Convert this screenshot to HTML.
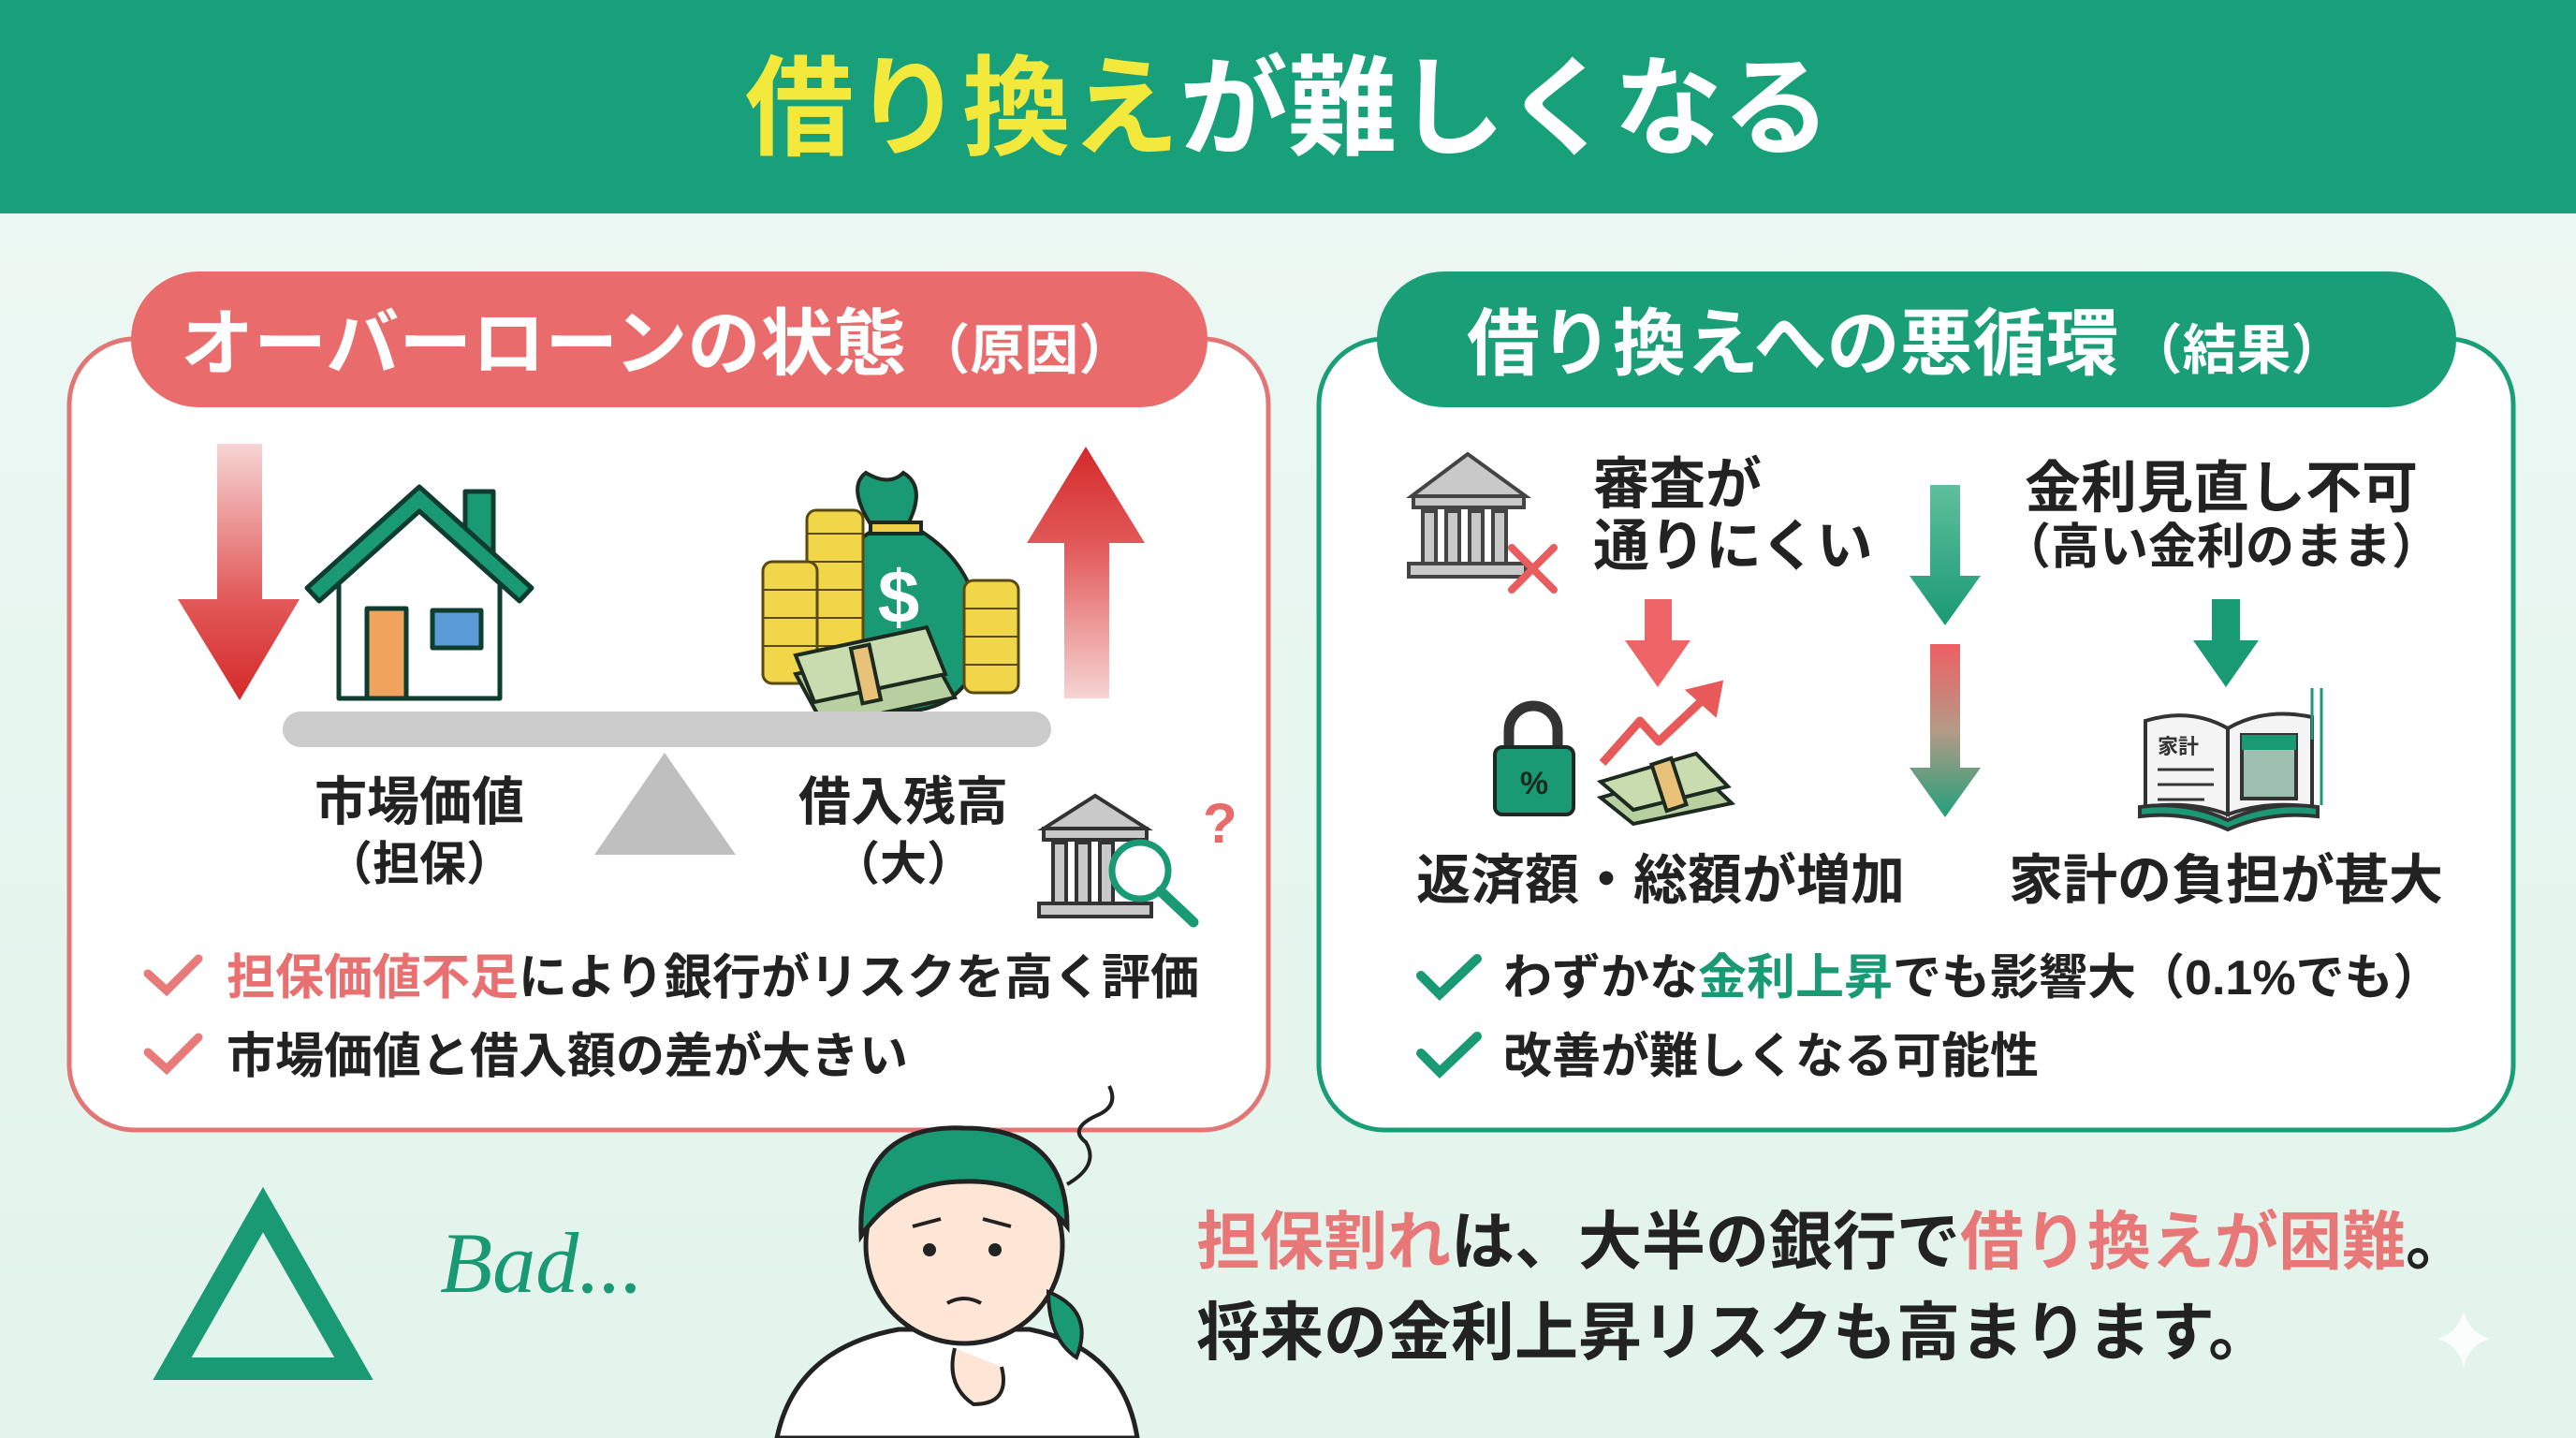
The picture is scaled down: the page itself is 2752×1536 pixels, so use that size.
<!DOCTYPE html>
<html><head><meta charset="utf-8">
<style>
html,body{margin:0;padding:0;background:#e8f6f0;}
svg{display:block;}
.t{font-family:"Liberation Sans","Noto Sans CJK JP",sans-serif;font-weight:700;}
</style></head>
<body>
<svg width="2752" height="1536" viewBox="0 0 2752 1536" xmlns="http://www.w3.org/2000/svg">
<defs>
<linearGradient id="bg" x1="0" y1="0" x2="0" y2="1"><stop offset="0" stop-color="#eef8f4"/><stop offset="1" stop-color="#e2f4ec"/></linearGradient>
<linearGradient id="rdown" x1="0" y1="0" x2="0" y2="1"><stop offset="0" stop-color="#f6d4d4"/><stop offset="0.6" stop-color="#e25a5a"/><stop offset="1" stop-color="#d42a2a"/></linearGradient>
<linearGradient id="rup" x1="0" y1="1" x2="0" y2="0"><stop offset="0" stop-color="#f6d4d4"/><stop offset="0.6" stop-color="#e25a5a"/><stop offset="1" stop-color="#d42a2a"/></linearGradient>
<linearGradient id="rg" x1="0" y1="0" x2="0" y2="1"><stop offset="0" stop-color="#ef5f62"/><stop offset="0.5" stop-color="#b49a86"/><stop offset="1" stop-color="#22a07a"/></linearGradient>
<linearGradient id="gdown" x1="0" y1="0" x2="0" y2="1"><stop offset="0" stop-color="#5fbf9c"/><stop offset="1" stop-color="#1a9a74"/></linearGradient>
</defs>
<rect width="2752" height="1536" fill="url(#bg)"/>
<rect x="0" y="0" width="2752" height="228" fill="#17a07a"/>
<text class="t" x="1376" y="156" text-anchor="middle" font-size="116" fill="#ffffff"><tspan fill="#f3e83c">借り換え</tspan>が難しくなる</text>

<!-- left panel -->
<rect x="74" y="362" width="1281" height="845" rx="70" fill="#ffffff" stroke="#e27575" stroke-width="5"/>
<rect x="140" y="290" width="1150" height="145" rx="72" fill="#e96b6b"/>
<text class="t" x="193" y="394" font-size="78" fill="#fff">オーバーローンの状態<tspan font-size="58" dx="10">（原因）</tspan></text>

<path d="M232 474 H280 V640 H320 L256 748 L190 640 H232 Z" fill="url(#rdown)"/>
<g stroke="#0e3d30" stroke-width="5" stroke-linejoin="round">
<rect x="497" y="525" width="30" height="70" fill="#1a9a74"/>
<path d="M362 600 L448 530 L534 600 V746 H362 Z" fill="#fff"/>
<path d="M328 628 L448 520 L568 628 L555 642 L448 546 L341 642 Z" fill="#1a9a74"/>
<rect x="392" y="650" width="42" height="96" fill="#efa35c"/>
<rect x="462" y="652" width="52" height="40" fill="#5b9bd8"/>
</g>
<g stroke="#1d2a20" stroke-width="4">
<path d="M930 560 Q905 520 925 505 Q950 520 965 505 Q990 520 970 560 Z" fill="#1a9a74"/>
<path d="M935 565 Q860 610 880 710 Q900 760 960 760 Q1030 760 1045 700 Q1055 610 980 565 Z" fill="#1a9a74"/>
<rect x="930" y="558" width="54" height="12" fill="#f0d048"/>
</g>
<text class="t" x="960" y="665" text-anchor="middle" font-size="80" fill="#fff">$</text>
<g stroke="#5a4a10" stroke-width="3" fill="#f2d64a">
<rect x="862" y="545" width="60" height="170" rx="10"/>
<rect x="815" y="600" width="58" height="130" rx="10"/>
<rect x="1030" y="620" width="58" height="120" rx="10"/>
</g>
<g stroke="#5a4a10" stroke-width="2">
<line x1="862" y1="570" x2="922" y2="570"/><line x1="862" y1="600" x2="922" y2="600"/><line x1="862" y1="630" x2="922" y2="630"/><line x1="862" y1="660" x2="922" y2="660"/><line x1="862" y1="690" x2="922" y2="690"/>
<line x1="815" y1="630" x2="873" y2="630"/><line x1="815" y1="660" x2="873" y2="660"/><line x1="815" y1="690" x2="873" y2="690"/>
<line x1="1030" y1="650" x2="1088" y2="650"/><line x1="1030" y1="680" x2="1088" y2="680"/><line x1="1030" y1="710" x2="1088" y2="710"/>
</g>
<g stroke="#1d2a20" stroke-width="4">
<path d="M850 720 L990 690 L1020 745 L880 775 Z" fill="#b8cfa0"/>
<path d="M850 700 L990 670 L1010 720 L870 750 Z" fill="#c8dcb0"/>
<rect x="915" y="690" width="20" height="60" fill="#e9c27a" transform="rotate(-12 925 720)"/>
</g>
<path d="M1137 746 H1185 V580 H1223 L1160 477 L1097 580 H1137 Z" fill="url(#rup)"/>
<rect x="302" y="760" width="821" height="38" rx="19" fill="#cbcbcb"/>
<path d="M710 804 L786 913 L635 913 Z" fill="#bfbfbf"/>
<text class="t" x="448" y="876" text-anchor="middle" font-size="56" fill="#222">市場価値</text>
<text class="t" x="448" y="940" text-anchor="middle" font-size="50" fill="#222">（担保）</text>
<text class="t" x="965" y="876" text-anchor="middle" font-size="56" fill="#222">借入残高</text>
<text class="t" x="965" y="940" text-anchor="middle" font-size="50" fill="#222">（大）</text>
<g stroke="#333" stroke-width="4" fill="#c9c9c9">
<path d="M1115 885 L1170 850 L1225 885 Z"/>
<rect x="1115" y="885" width="110" height="12"/>
<rect x="1125" y="900" width="14" height="65"/><rect x="1150" y="900" width="14" height="65"/><rect x="1175" y="900" width="14" height="65"/>
<rect x="1110" y="965" width="120" height="14"/>
</g>
<circle cx="1218" cy="930" r="30" fill="#fff" stroke="#1a9a74" stroke-width="7"/>
<line x1="1240" y1="952" x2="1275" y2="985" stroke="#1a9a74" stroke-width="11" stroke-linecap="round"/>
<text class="t" x="1285" y="900" font-size="60" fill="#e86a6a">?</text>
<path d="M158 1040 L178 1058 L212 1024" fill="none" stroke="#e87a7a" stroke-width="9" stroke-linecap="round"/>
<text class="t" x="242" y="1062" font-size="52" fill="#222"><tspan fill="#e87070">担保価値不足</tspan>により銀行がリスクを高く評価</text>
<path d="M158 1124 L178 1142 L212 1108" fill="none" stroke="#e87a7a" stroke-width="9" stroke-linecap="round"/>
<text class="t" x="242" y="1146" font-size="52" fill="#222">市場価値と借入額の差が大きい</text>

<!-- right panel -->
<rect x="1409" y="362" width="1276" height="845" rx="70" fill="#ffffff" stroke="#1a9e78" stroke-width="5"/>
<rect x="1471" y="290" width="1153" height="145" rx="72" fill="#1a9e78"/>
<text class="t" x="1567" y="394" font-size="78" fill="#fff">借り換えへの悪循環<tspan font-size="58" dx="10">（結果）</tspan></text>

<!-- bank x -->
<g stroke="#444" stroke-width="4" fill="#c9c9c9">
<path d="M1508 530 L1568 485 L1630 530 Z"/>
<rect x="1510" y="530" width="118" height="12"/>
<rect x="1520" y="546" width="14" height="56"/><rect x="1545" y="546" width="14" height="56"/><rect x="1570" y="546" width="14" height="56"/><rect x="1595" y="546" width="14" height="56"/>
<rect x="1505" y="602" width="125" height="14"/>
</g>
<path d="M1615 585 L1660 630 M1660 585 L1615 630" stroke="#e85e5e" stroke-width="8" stroke-linecap="round"/>
<text class="t" x="1702" y="538" font-size="60" fill="#222">審査が</text>
<text class="t" x="1702" y="604" font-size="60" fill="#222">通りにくい</text>
<path d="M1757 640 H1786 V684 H1806 L1771 734 L1736 684 H1757 Z" fill="#ef6466"/>
<!-- lock -->
<path d="M1612 800 V780 A26 26 0 0 1 1664 780 V800" fill="none" stroke="#333" stroke-width="11"/>
<rect x="1597" y="798" width="84" height="72" rx="8" fill="#1a9a74" stroke="#1d2a20" stroke-width="4"/>
<text class="t" x="1639" y="848" text-anchor="middle" font-size="34" fill="#1d2a20">%</text>
<!-- trend + money -->
<path d="M1712 815 L1752 770 L1772 792 L1825 742" fill="none" stroke="#e85a5a" stroke-width="9" stroke-linejoin="round"/>
<path d="M1805 738 L1838 730 L1832 762 Z" fill="#e85a5a" stroke="#e85a5a" stroke-width="5"/>
<g stroke="#1d2a20" stroke-width="4">
<path d="M1710 852 L1812 822 L1850 858 L1745 880 Z" fill="#b8cfa0"/>
<path d="M1710 835 L1812 805 L1846 840 L1745 865 Z" fill="#c8dcb0"/>
<rect x="1772" y="812" width="22" height="52" fill="#e9c27a" transform="rotate(-18 1783 838)"/>
</g>
<text class="t" x="1513" y="960" font-size="58" fill="#222">返済額・総額が増加</text>
<!-- center arrows -->
<path d="M2062 518 H2094 V615 H2116 L2078 668 L2040 615 H2062 Z" fill="url(#gdown)"/>
<path d="M2062 688 H2094 V820 H2116 L2078 873 L2040 820 H2062 Z" fill="url(#rg)"/>
<text class="t" x="2373" y="542" text-anchor="middle" font-size="60" fill="#222">金利見直し不可</text>
<text class="t" x="2373" y="602" text-anchor="middle" font-size="52" fill="#222">（高い金利のまま）</text>
<path d="M2363 640 H2393 V684 H2413 L2378 734 L2343 684 H2363 Z" fill="#1a9a74"/>
<!-- book -->
<g stroke="#333" stroke-width="4">
<path d="M2292 770 Q2340 755 2380 778 V870 Q2340 855 2292 862 Z" fill="#f4f4f4"/>
<path d="M2380 778 Q2420 755 2470 766 V862 Q2420 855 2380 870 Z" fill="#f4f4f4"/>
<path d="M2286 862 Q2335 855 2380 876 Q2425 855 2476 862 V872 Q2425 866 2380 886 Q2335 866 2286 872 Z" fill="#1a9a74"/>
<rect x="2395" y="785" width="58" height="68" fill="#9fc0b0"/>
</g>
<rect x="2395" y="785" width="58" height="16" fill="#1a9a74"/>
<text class="t" x="2305" y="805" font-size="22" fill="#333">家計</text>
<g stroke="#333" stroke-width="3"><line x1="2305" y1="822" x2="2365" y2="822"/><line x1="2305" y1="838" x2="2365" y2="838"/><line x1="2305" y1="854" x2="2355" y2="854"/></g>
<g stroke="#1a9a74" stroke-width="3"><line x1="2470" y1="735" x2="2470" y2="790"/><line x1="2480" y1="735" x2="2480" y2="860"/></g>
<text class="t" x="2378" y="960" text-anchor="middle" font-size="58" fill="#222">家計の負担が甚大</text>
<path d="M1518 1042 L1538 1062 L1578 1024" fill="none" stroke="#1a9a74" stroke-width="10" stroke-linecap="round"/>
<text class="t" x="1606" y="1062" font-size="52" fill="#222">わずかな<tspan fill="#1a9a74">金利上昇</tspan>でも影響大（0.1%でも）</text>
<path d="M1518 1125 L1538 1145 L1578 1107" fill="none" stroke="#1a9a74" stroke-width="10" stroke-linecap="round"/>
<text class="t" x="1606" y="1146" font-size="52" fill="#222">改善が難しくなる可能性</text>

<!-- bottom -->
<path d="M281 1292 L378 1462 L184 1462 Z" fill="none" stroke="#1a9a74" stroke-width="24"/>
<text x="470" y="1380" font-size="92" font-style="italic" fill="#1a9a74" style="font-family:'Liberation Serif',serif;font-weight:400">Bad...</text>
<path d="M830 1536 Q850 1440 960 1420 L1100 1420 Q1200 1440 1215 1536 Z" fill="#fff" stroke="#222" stroke-width="5"/>
<circle cx="1030" cy="1330" r="105" fill="#fde6d6" stroke="#222" stroke-width="5"/>
<path d="M920 1320 Q915 1200 1030 1205 Q1140 1205 1140 1310 Q1100 1260 1030 1262 Q960 1262 920 1320 Z" fill="#1a9a74" stroke="#222" stroke-width="5"/>
<path d="M1120 1380 Q1170 1400 1150 1450 Q1120 1430 1120 1380 Z" fill="#1a9a74" stroke="#222" stroke-width="4"/>
<circle cx="993" cy="1335" r="7" fill="#222"/><circle cx="1063" cy="1335" r="7" fill="#222"/>
<path d="M975 1310 L1005 1302 M1050 1302 L1080 1310" stroke="#222" stroke-width="4" fill="none"/>
<path d="M1012 1392 Q1030 1382 1048 1392" stroke="#222" stroke-width="4" fill="none"/>
<path d="M1020 1440 Q1010 1480 1040 1500 Q1080 1500 1070 1460" fill="#fde6d6" stroke="#222" stroke-width="4"/>
<path d="M1140 1265 Q1175 1245 1160 1220 Q1140 1205 1175 1190 Q1195 1180 1185 1160" fill="none" stroke="#222" stroke-width="4"/>
<text class="t" x="1278" y="1350" font-size="68" fill="#222"><tspan fill="#e87777">担保割れ</tspan>は、大半の銀行で<tspan fill="#e87777">借り換えが困難</tspan>。</text>
<text class="t" x="1278" y="1447" font-size="68" fill="#222">将来の金利上昇リスクも高まります。</text>
<path d="M2632 1400 Q2638 1424 2660 1430 Q2638 1436 2632 1460 Q2626 1436 2604 1430 Q2626 1424 2632 1400 Z" fill="#ffffff" opacity="0.8"/>
</svg>
</body></html>
